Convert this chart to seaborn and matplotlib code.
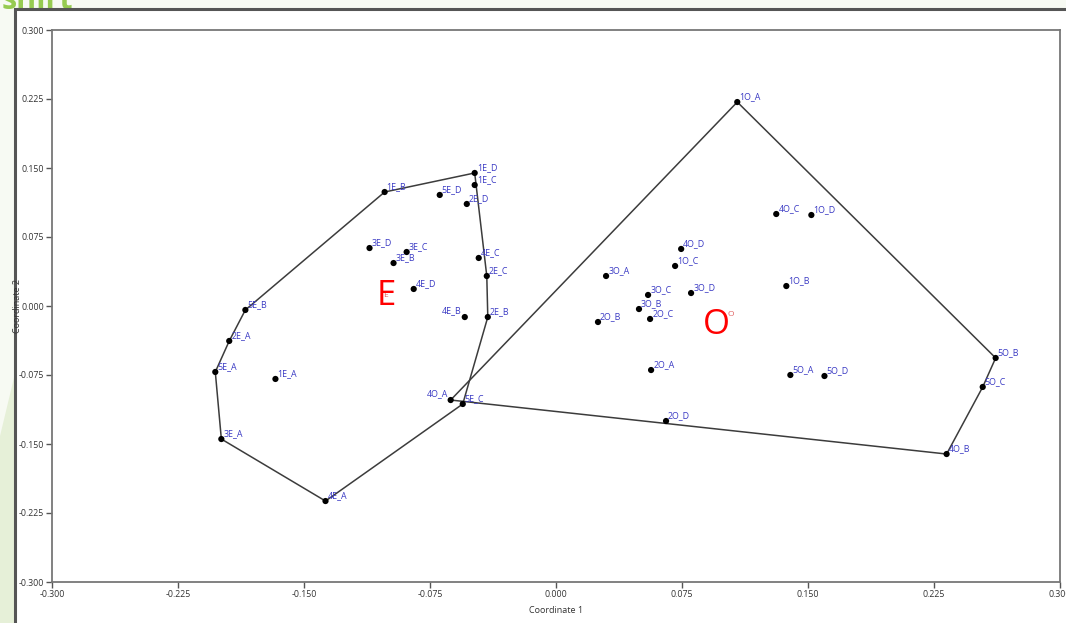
import numpy as np
import pandas as pd
import matplotlib
matplotlib.use("Agg")
import matplotlib.pyplot as plt
from matplotlib.patches import Rectangle, Polygon
import seaborn as sns

# Principal coordinates of the samples (Coordinate 1, Coordinate 2)
e_names = ["1E_A", "1E_B", "1E_C", "1E_D", "2E_A", "2E_B", "2E_C", "2E_D",
           "3E_A", "3E_B", "3E_C", "3E_D", "4E_A", "4E_B", "4E_C", "4E_D",
           "5E_A", "5E_B", "5E_C", "5E_D"]
e_x = [-0.1670, -0.1020, -0.0484, -0.0484, -0.1945, -0.0406, -0.0412, -0.0531,
       -0.1992, -0.0967, -0.0889, -0.1110, -0.1372, -0.0543, -0.0460, -0.0847,
       -0.2028, -0.1849, -0.0555, -0.0692]
e_y = [-0.0793, 0.1239, 0.1315, 0.1446, -0.0380, -0.0120, 0.0326, 0.1109,
       -0.1446, 0.0467, 0.0587, 0.0630, -0.2120, -0.0120, 0.0522, 0.0185,
       -0.0717, -0.0043, -0.1065, 0.1207]

o_names = ["1O_A", "1O_B", "1O_C", "1O_D", "2O_A", "2O_B", "2O_C", "2O_D",
           "3O_A", "3O_B", "3O_C", "3O_D", "4O_A", "4O_B", "4O_C", "4O_D",
           "5O_A", "5O_B", "5O_C", "5O_D"]
o_x = [0.1079, 0.1371, 0.0709, 0.1520, 0.0566, 0.0250, 0.0560, 0.0655,
       0.0298, 0.0494, 0.0548, 0.0804, -0.0627, 0.2325, 0.1311, 0.0745,
       0.1395, 0.2617, 0.2540, 0.1598]
o_y = [0.2217, 0.0217, 0.0435, 0.0989, -0.0696, -0.0174, -0.0141, -0.1250,
       0.0326, -0.0033, 0.0120, 0.0141, -0.1022, -0.1609, 0.1000, 0.0620,
       -0.0750, -0.0565, -0.0880, -0.0761]

groups = ["E", "O"]
ticks = [-0.300, -0.225, -0.150, -0.075, 0.000, 0.075, 0.150, 0.225, 0.300]
left_labels = {"4E_B", "4O_A"}

df = pd.DataFrame({
    "name": e_names + o_names,
    "x": e_x + o_x,
    "y": e_y + o_y,
    "group": ["E"] * len(e_names) + ["O"] * len(o_names),
})


def convex_hull(pts):
    pts = sorted(set(map(tuple, pts)))
    def cross(o, a, b):
        return (a[0] - o[0]) * (b[1] - o[1]) - (a[1] - o[1]) * (b[0] - o[0])
    lower, upper = [], []
    for p in pts:
        while len(lower) >= 2 and cross(lower[-2], lower[-1], p) <= 0:
            lower.pop()
        lower.append(p)
    for p in reversed(pts):
        while len(upper) >= 2 and cross(upper[-2], upper[-1], p) <= 0:
            upper.pop()
        upper.append(p)
    return np.array(lower[:-1] + upper[:-1])


sns.set_style("white")
plt.rcParams["font.family"] = ["Open Sans", "DejaVu Sans"]

W, H = 1066, 623
fig = plt.figure(figsize=(W / 100, H / 100), dpi=100, facecolor="#f7faf3")

# window background behind the plot
fig.patches.append(Polygon([[0, 0.0], [0.014, 0.0], [0.014, 0.40], [0, 0.30]],
                           closed=True, transform=fig.transFigure,
                           facecolor="#e6f0d8", edgecolor="none", zorder=-2))
fig.patches.append(Rectangle((15 / W, -0.01), 1.0, 1 - 9 / H + 0.01,
                             transform=fig.transFigure, facecolor="white",
                             edgecolor="#555555", linewidth=2.2, zorder=-1))
fig.text(2 / W, 1 - 1 / H, "shirt", color="#8cc63f", fontsize=22,
         fontweight="bold", ha="left", va="center", alpha=0.9, zorder=-1.5)

ax = fig.add_axes([52 / W, 1 - 582 / H, (1060 - 52) / W, (582 - 30) / H])
ax.set_zorder(2)
ax.set_facecolor("white")

# convex hulls around each group
for g in groups:
    sub = df[df.group == g]
    hull = convex_hull(sub[["x", "y"]].values)
    hull = np.vstack([hull, hull[:1]])
    ax.plot(hull[:, 0], hull[:, 1], color="#3c3c3c", lw=1.1, zorder=2)

sns.scatterplot(data=df, x="x", y="y", color="black", s=20, edgecolor="none",
                legend=False, ax=ax, zorder=3)

for _, r in df.iterrows():
    if r["name"] in left_labels:
        ax.annotate(r["name"], (r["x"], r["y"]), xytext=(-2, 1.5),
                    textcoords="offset points", ha="right", va="bottom",
                    fontsize=6.4, color="#3b3bc4", zorder=4)
    else:
        ax.annotate(r["name"], (r["x"], r["y"]), xytext=(1.5, 0.5),
                    textcoords="offset points", ha="left", va="bottom",
                    fontsize=6.4, color="#3b3bc4", zorder=4)

# group centroids with their names
big_offsets = {"E": (0, 0), "O": (-10, -8)}
for g in groups:
    sub = df[df.group == g]
    cx, cy = sub.x.mean(), sub.y.mean()
    ax.text(cx, cy, g, color="#e06060", fontsize=6, ha="center", va="center",
            zorder=4)
    ax.annotate(g, (cx, cy), xytext=big_offsets[g], textcoords="offset points",
                color="red", fontsize=25, ha="center", va="center", zorder=5)

ax.set_xlim(-0.3, 0.3)
ax.set_ylim(-0.3, 0.3)
ax.set_xticks(ticks)
ax.set_yticks(ticks)
ax.set_xticklabels([f"{t:.3f}" for t in ticks])
ax.set_yticklabels([f"{t:.3f}" for t in ticks])
ax.tick_params(axis="both", direction="out", length=4, width=1, color="#555555",
               labelsize=6.3, labelcolor="#333333", pad=1.5, left=True, bottom=True)
for sp in ax.spines.values():
    sp.set_visible(True)
    sp.set_color("#777777")
    sp.set_linewidth(1.3)
ax.set_xlabel("Coordinate 1", fontsize=6.5, color="#333333", labelpad=5)
ax.set_ylabel("Coordinate 2", fontsize=6.5, color="#333333")
ax.yaxis.set_label_coords(-0.030, 0.5)

fig.savefig("out.png", dpi=100, facecolor=fig.get_facecolor())
